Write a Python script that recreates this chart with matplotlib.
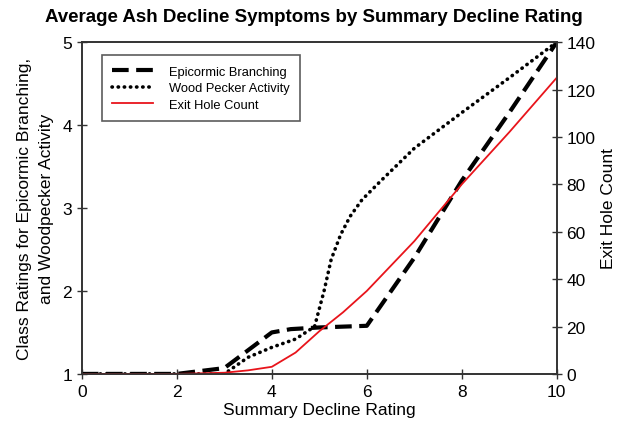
import matplotlib
matplotlib.use("Agg")
import matplotlib.pyplot as plt

plt.rcParams['font.family'] = ['Liberation Sans', 'DejaVu Sans']

# values
epi_x = [0, 1, 2, 3, 4, 4.4, 5, 6, 7, 8, 9, 10]
epi_y = [1.0, 1.0, 1.0, 1.07, 1.5, 1.54, 1.56, 1.58, 2.4, 3.33, 4.15, 5.0]

wood_x = [0, 1, 2, 3, 3.5, 4, 4.5, 4.9, 5.1, 5.25, 5.45, 5.65, 5.9, 6.3, 7, 8, 9, 10]
wood_y = [1.0, 1.0, 1.0, 1.0, 1.2, 1.32, 1.42, 1.57, 2.0, 2.38, 2.68, 2.9, 3.1, 3.33, 3.72, 4.15, 4.57, 5.0]

hole_x = [0, 1, 2, 3, 3.5, 4, 4.5, 5, 5.5, 6, 7, 8, 9, 10]
hole_y = [0, 0, 0, 0.5, 1.5, 3, 9, 18, 26, 35, 56, 80, 102, 125]

fig = plt.figure(figsize=(6.2, 4.27), dpi=100)
ax = fig.add_axes([0.132, 0.122, 0.766, 0.777])
ax2 = ax.twinx()

l1, = ax.plot(epi_x, epi_y, color='black', lw=3.0, ls=(0, (4, 1.8)), label='Epicormic Branching')
l2, = ax.plot(wood_x, wood_y, color='black', lw=2.6, ls=(0, (0.1, 1.6)),
              dash_capstyle='round', label='Wood Pecker Activity')
l3, = ax2.plot(hole_x, hole_y, color='#e8141b', lw=1.3, label='Exit Hole Count')

ax.set_xlim(0, 10)
ax.set_ylim(1, 5)
ax2.set_ylim(0, 140)
ax.set_xticks([0, 2, 4, 6, 8, 10])
ax.set_yticks([1, 2, 3, 4, 5])
ax2.set_yticks(range(0, 141, 20))

for a in (ax, ax2):
    a.tick_params(direction='inout', length=7, width=1, labelsize=12.5, color='#333333')
    for s in a.spines.values():
        s.set_linewidth(1.2)
        s.set_color('#333333')
ax.tick_params(axis='x', pad=4)

ax.set_xlabel('Summary Decline Rating', fontsize=12.5, labelpad=2)
ax.set_ylabel('Class Ratings for Epicormic Branching,\nand Woodpecker Activity', fontsize=12.5,
              labelpad=6, linespacing=1.55)
ax2.set_ylabel('Exit Hole Count', fontsize=12.5, labelpad=4)

fig.text(0.507, 0.958, 'Average Ash Decline Symptoms by Summary Decline Rating',
         ha='center', va='center', fontsize=13.5, fontweight='bold')

leg = ax.legend(handles=[l1, l2, l3], loc='upper left', bbox_to_anchor=(0.042, 0.96),
                fontsize=9.3, frameon=True, fancybox=False, handlelength=3.2,
                borderpad=0.8, labelspacing=0.35, handletextpad=1.2, borderaxespad=0)
leg.get_frame().set_edgecolor('#333333')
leg.get_frame().set_linewidth(1.2)

fig.savefig('out.png', dpi=100)
